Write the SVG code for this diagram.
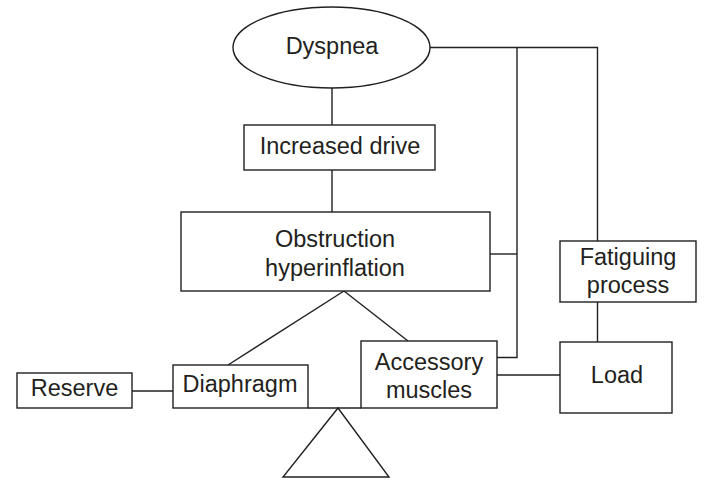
<svg xmlns="http://www.w3.org/2000/svg" width="704" height="488" viewBox="0 0 704 488">
<style>
.box{fill:#fff;stroke:#231f20;stroke-width:1.4}
.ln{fill:none;stroke:#231f20;stroke-width:1.4}
text{font-family:"Liberation Sans",Arial,sans-serif;font-size:23.5px;fill:#231f20;text-anchor:middle}
</style>
<rect width="704" height="488" fill="#fff"/>
<g id="connectors">
<path class="ln" d="M430 47.5H597.5V241"/>
<path class="ln" d="M517 47.5V357.5H497"/>
<path class="ln" d="M490 254H517"/>
<path class="ln" d="M332 88V125"/>
<path class="ln" d="M332 170V212"/>
<path class="ln" d="M597.5 302V342"/>
<path class="ln" d="M497 375H560"/>
<path class="ln" d="M132 391H173"/>
<path class="ln" d="M344 291L228 365"/>
<path class="ln" d="M344 291L408 341"/>
<path class="ln" d="M308 408H361"/>
</g>
<g id="dyspnea">
<ellipse class="box" cx="331.5" cy="47.5" rx="98.5" ry="40.5"/>
<text x="332" y="53.5">Dyspnea</text>
</g>
<g id="increased-drive">
<rect class="box" x="244" y="125" width="191" height="45"/>
<text x="340" y="153.5">Increased drive</text>
</g>
<g id="obstruction">
<rect class="box" x="181" y="212" width="309" height="79"/>
<text x="335" y="247">Obstruction</text>
<text x="335" y="276">hyperinflation</text>
</g>
<g id="fatiguing">
<rect class="box" x="560" y="241" width="136" height="61"/>
<text x="628" y="265">Fatiguing</text>
<text x="628" y="293">process</text>
</g>
<g id="load">
<rect class="box" x="560" y="342" width="112" height="71"/>
<text x="617" y="383">Load</text>
</g>
<g id="accessory">
<rect class="box" x="361" y="341" width="136" height="67"/>
<text x="429" y="370">Accessory</text>
<text x="429" y="398">muscles</text>
</g>
<g id="diaphragm">
<rect class="box" x="173" y="365" width="135" height="43"/>
<text x="240" y="392">Diaphragm</text>
</g>
<g id="reserve">
<rect class="box" x="17" y="373" width="115" height="35"/>
<text x="74.5" y="396">Reserve</text>
</g>
<g id="fulcrum">
<polygon class="box" points="338,408 389,477 283,477"/>
</g>
</svg>
